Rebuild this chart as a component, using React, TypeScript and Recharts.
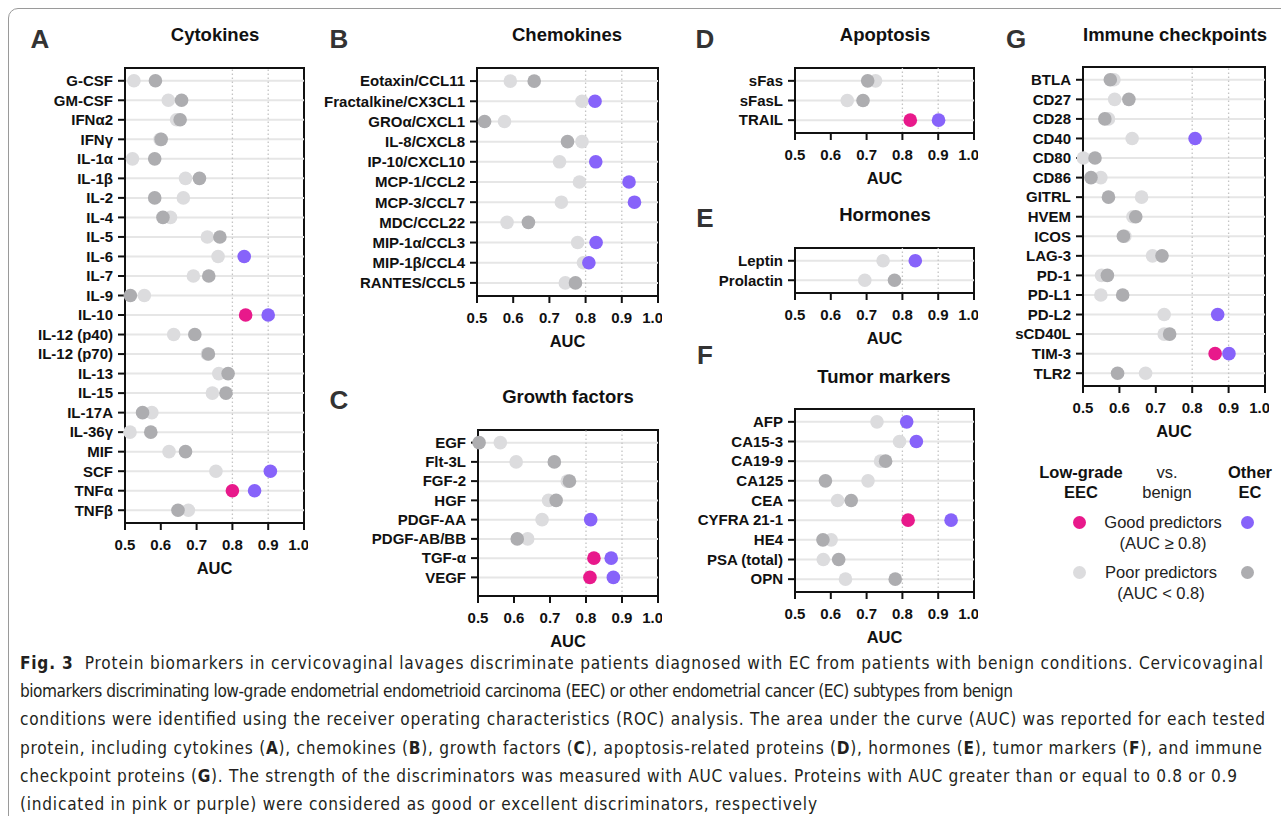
import { ScatterChart, Scatter, XAxis, YAxis, ReferenceLine } from 'recharts';

const PINK = '#e8198b';
const PURPLE = '#8763fa';
const LIGHT = '#dcdcde';
const DARK = '#adadb0';
const FONT = '"Liberation Sans", Arial, Helvetica, sans-serif';
const AUC_TICKS = [0.5, 0.6, 0.7, 0.8, 0.9, 1.0];

// A - cytokines
const cytokineNames = ['G-CSF', 'GM-CSF', 'IFNα2', 'IFNγ', 'IL-1α', 'IL-1β', 'IL-2', 'IL-4', 'IL-5', 'IL-6', 'IL-7', 'IL-9', 'IL-10', 'IL-12 (p40)', 'IL-12 (p70)', 'IL-13', 'IL-15', 'IL-17A', 'IL-36γ', 'MIF', 'SCF', 'TNFα', 'TNFβ'];
const cytokineLow = [0.525, 0.621, 0.644, 0.598, 0.521, 0.669, 0.663, 0.627, 0.73, 0.76, 0.691, 0.554, 0.837, 0.636, 0.73, 0.762, 0.744, 0.575, 0.514, 0.623, 0.754, 0.8, 0.677];
const cytokineOther = [0.585, 0.658, 0.654, 0.601, 0.583, 0.708, 0.583, 0.606, 0.765, 0.833, 0.734, 0.515, 0.9, 0.695, 0.733, 0.788, 0.782, 0.549, 0.572, 0.669, 0.906, 0.862, 0.648];

// B - chemokines
const chemokineNames = ['Eotaxin/CCL11', 'Fractalkine/CX3CL1', 'GROα/CXCL1', 'IL-8/CXCL8', 'IP-10/CXCL10', 'MCP-1/CCL2', 'MCP-3/CCL7', 'MDC/CCL22', 'MIP-1α/CCL3', 'MIP-1β/CCL4', 'RANTES/CCL5'];
const chemokineLow = [0.592, 0.79, 0.576, 0.79, 0.728, 0.783, 0.733, 0.583, 0.778, 0.794, 0.744];
const chemokineOther = [0.658, 0.826, 0.521, 0.75, 0.828, 0.92, 0.935, 0.642, 0.829, 0.809, 0.772];

// C - growth factors
const growthNames = ['EGF', 'Flt-3L', 'FGF-2', 'HGF', 'PDGF-AA', 'PDGF-AB/BB', 'TGF-α', 'VEGF'];
const growthLow = [0.562, 0.606, 0.748, 0.696, 0.678, 0.638, 0.822, 0.811];
const growthOther = [0.503, 0.712, 0.754, 0.717, 0.813, 0.609, 0.87, 0.876];

// D - apoptosis
const apoptosisNames = ['sFas', 'sFasL', 'TRAIL'];
const apoptosisLow = [0.725, 0.646, 0.822];
const apoptosisOther = [0.703, 0.69, 0.901];

// E - hormones
const hormoneNames = ['Leptin', 'Prolactin'];
const hormoneLow = [0.746, 0.695];
const hormoneOther = [0.836, 0.778];

// F - tumor markers
const tumorNames = ['AFP', 'CA15-3', 'CA19-9', 'CA125', 'CEA', 'CYFRA 21-1', 'HE4', 'PSA (total)', 'OPN'];
const tumorLow = [0.729, 0.792, 0.739, 0.704, 0.619, 0.816, 0.601, 0.579, 0.641];
const tumorOther = [0.812, 0.839, 0.753, 0.585, 0.657, 0.936, 0.578, 0.622, 0.78];

// G - immune checkpoints
const checkpointNames = ['BTLA', 'CD27', 'CD28', 'CD40', 'CD80', 'CD86', 'GITRL', 'HVEM', 'ICOS', 'LAG-3', 'PD-1', 'PD-L1', 'PD-L2', 'sCD40L', 'TIM-3', 'TLR2'];
const checkpointLow = [0.585, 0.587, 0.57, 0.635, 0.501, 0.549, 0.661, 0.637, 0.615, 0.691, 0.551, 0.549, 0.723, 0.723, 0.863, 0.672];
const checkpointOther = [0.575, 0.626, 0.56, 0.808, 0.533, 0.522, 0.57, 0.645, 0.611, 0.717, 0.567, 0.609, 0.87, 0.738, 0.901, 0.595];

// caption, one entry per printed line: [text, bold]
const captionLines: [string, boolean][][] = [
  [['Fig. 3', true], ['  Protein biomarkers in cervicovaginal lavages discriminate patients diagnosed with EC from patients with benign conditions. Cervicovaginal', false]],
  [['biomarkers discriminating low-grade endometrial endometrioid carcinoma (EEC) or other endometrial cancer (EC) subtypes from benign', false]],
  [['conditions were identified using the receiver operating characteristics (ROC) analysis. The area under the curve (AUC) was reported for each tested', false]],
  [['protein, including cytokines (', false], ['A', true], ['), chemokines (', false], ['B', true], ['), growth factors (', false], ['C', true], ['), apoptosis-related proteins (', false], ['D', true], ['), hormones (', false], ['E', true], ['), tumor markers (', false], ['F', true], ['), and immune', false]],
  [['checkpoint proteins (', false], ['G', true], ['). The strength of the discriminators was measured with AUC values. Proteins with AUC greater than or equal to 0.8 or 0.9', false]],
  [['(indicated in pink or purple) were considered as good or excellent discriminators, respectively', false]],
];
const captionEnds = [1263, 1013, 1265, 1262, 1237, 817];
const CAPTION_SQUEEZE = 0.88;

const dot = (series: 'low' | 'other') => (props: any) => {
  const good = props.payload.v >= 0.8;
  const fill = series === 'low' ? (good ? PINK : LIGHT) : good ? PURPLE : DARK;
  return <circle cx={props.cx} cy={props.cy} r={6.8} fill={fill} />;
};

const axisStroke = { stroke: '#111', strokeWidth: 2 };
const tickFont = { fill: '#111', fontSize: 15, fontWeight: 700, fontFamily: FONT };

interface PanelProps {
  names: string[];
  low: number[];
  other: number[];
  x: number;
  y: number;
  w: number;
  h: number;
  yw: number;
  padTop?: number;
  padBottom?: number;
}

function DotPanel({ names, low, other, x, y, w, h, yw, padTop = 3, padBottom = 3 }: PanelProps) {
  const lowData = names.map((name, i) => ({ name, v: low[i] }));
  const otherData = names.map((name, i) => ({ name, v: other[i] }));
  return (
    <div style={{ position: 'absolute', left: x - yw, top: y - 2, width: yw + w + 4, height: h + 58 }}>
      {/* top and right edges of the plot box, under the chart svg */}
      <div
        style={{
          position: 'absolute',
          left: yw - 1,
          top: 1,
          width: w + 2,
          height: h + 2,
          borderTop: '2px solid #111',
          borderRight: '2px solid #111',
          boxSizing: 'border-box',
        }}
      />
      <div style={{ position: 'absolute', left: 0, top: 0 }}>
        <ScatterChart width={yw + w + 4} height={h + 2 + 56} margin={{ top: 2, right: 4, bottom: 0, left: 0 }}>
          <XAxis
            type="number"
            dataKey="v"
            domain={[0.5, 1]}
            ticks={AUC_TICKS}
            tickFormatter={(v: number) => v.toFixed(1)}
            height={56}
            tickSize={7}
            tickMargin={9}
            axisLine={axisStroke}
            tickLine={axisStroke}
            tick={tickFont}
            label={{ value: 'AUC', position: 'insideBottom', offset: 5, style: { fill: '#111', fontSize: 16.5, fontWeight: 700, fontFamily: FONT } }}
          />
          <YAxis
            type="category"
            dataKey="name"
            allowDuplicatedCategory={false}
            reversed
            interval={0}
            width={yw}
            padding={{ top: padTop, bottom: padBottom }}
            tickSize={7}
            tickMargin={5}
            axisLine={axisStroke}
            tickLine={axisStroke}
            tick={tickFont}
          />
          {names.map((n) => (
            <ReferenceLine key={n} y={n} stroke="#e6e6e6" strokeWidth={2} />
          ))}
          <ReferenceLine x={0.8} stroke="#c4c4c4" strokeWidth={1.3} strokeDasharray="1.5 2.5" />
          <ReferenceLine x={0.9} stroke="#c4c4c4" strokeWidth={1.3} strokeDasharray="1.5 2.5" />
          <Scatter data={lowData} shape={dot('low')} isAnimationActive={false} />
          <Scatter data={otherData} shape={dot('other')} isAnimationActive={false} />
        </ScatterChart>
      </div>
    </div>
  );
}

function Txt({ x, y, size, bold, children, color = '#111' }: any) {
  return (
    <div
      style={{
        position: 'absolute',
        left: x,
        top: y,
        transform: 'translate(-50%, -50%)',
        fontFamily: FONT,
        fontSize: size,
        fontWeight: bold ? 700 : 400,
        lineHeight: 1,
        whiteSpace: 'nowrap',
        color,
      }}
    >
      {children}
    </div>
  );
}

function LegendDot({ x, y, color }: { x: number; y: number; color: string }) {
  return <div style={{ position: 'absolute', left: x - 6.5, top: y - 6.5, width: 13, height: 13, borderRadius: '50%', background: color }} />;
}

export default function App() {
  return (
    <div style={{ position: 'absolute', left: 0, top: 0, width: 1281, height: 816, background: '#fff', overflow: 'hidden' }}>
      <div style={{ position: 'absolute', left: 8, top: 8, width: 1300, height: 840, border: '1px solid #9a9a9a', borderRadius: 10 }} />

      <Txt x={40} y={39} size={26} bold color="#333">A</Txt>
      <Txt x={215} y={35} size={18.5} bold>Cytokines</Txt>
      <DotPanel names={cytokineNames} low={cytokineLow} other={cytokineOther} x={125} y={68} w={179} h={455} yw={110} />

      <Txt x={339} y={39} size={26} bold color="#333">B</Txt>
      <Txt x={567} y={35} size={18.5} bold>Chemokines</Txt>
      <DotPanel names={chemokineNames} low={chemokineLow} other={chemokineOther} x={477} y={68} w={181} h={228} yw={170} />

      <Txt x={339} y={400} size={26} bold color="#333">C</Txt>
      <Txt x={568} y={397} size={18.5} bold>Growth factors</Txt>
      <DotPanel names={growthNames} low={growthLow} other={growthOther} x={478} y={430} w={180} h={166} yw={120} padBottom={9} />

      <Txt x={705} y={39} size={26} bold color="#333">D</Txt>
      <Txt x={885} y={35} size={18.5} bold>Apoptosis</Txt>
      <DotPanel names={apoptosisNames} low={apoptosisLow} other={apoptosisOther} x={795} y={68} w={179} h={65} yw={105} />

      <Txt x={705} y={218} size={26} bold color="#333">E</Txt>
      <Txt x={885} y={215} size={18.5} bold>Hormones</Txt>
      <DotPanel names={hormoneNames} low={hormoneLow} other={hormoneOther} x={795} y={248} w={179} h={45} yw={105} />

      <Txt x={705} y={355} size={26} bold color="#333">F</Txt>
      <Txt x={884} y={377} size={18.5} bold>Tumor markers</Txt>
      <DotPanel names={tumorNames} low={tumorLow} other={tumorOther} x={795} y={409} w={179} h={183} yw={105} />

      <Txt x={1016} y={39} size={26} bold color="#333">G</Txt>
      <Txt x={1175} y={35} size={18.5} bold>Immune checkpoints</Txt>
      <DotPanel names={checkpointNames} low={checkpointLow} other={checkpointOther} x={1083} y={67} w={182} h={319} yw={75} />

      {/* legend */}
      <Txt x={1081} y={472} size={16.5} bold>Low-grade</Txt>
      <Txt x={1081} y={492} size={16.5} bold>EEC</Txt>
      <Txt x={1167} y={472} size={16.5} color="#222">vs.</Txt>
      <Txt x={1167} y={492} size={16.5} color="#222">benign</Txt>
      <Txt x={1250} y={472} size={16.5} bold>Other</Txt>
      <Txt x={1250} y={492} size={16.5} bold>EC</Txt>
      <LegendDot x={1079} y={522} color={PINK} />
      <LegendDot x={1247} y={522} color={PURPLE} />
      <Txt x={1163} y={522} size={16.5} color="#222">Good predictors</Txt>
      <Txt x={1163} y={543} size={16.5} color="#222">(AUC ≥ 0.8)</Txt>
      <LegendDot x={1079} y={572} color={LIGHT} />
      <LegendDot x={1247} y={572} color={DARK} />
      <Txt x={1161} y={572} size={16.5} color="#222">Poor predictors</Txt>
      <Txt x={1161} y={593} size={16.5} color="#222">(AUC &lt; 0.8)</Txt>

      {/* caption: glyphs condensed by a uniform scale, lines filled out with letter spacing */}
      <svg style={{ position: 'absolute', left: 0, top: 0 }} width={1281} height={816}>
        <g transform={`translate(20,0) scale(${CAPTION_SQUEEZE},1)`}>
          {captionLines.map((segs, i) => (
            <text
              key={i}
              x={0}
              y={669 + i * 28.2}
              textLength={(captionEnds[i] - 20) / CAPTION_SQUEEZE}
              lengthAdjust="spacing"
              fontFamily='"DejaVu Sans", sans-serif'
              fontSize={17.5}
              fill="#231f20"
            >
              {segs.map(([t, b], j) => (
                <tspan key={j} fontWeight={b ? 700 : 400} style={{ whiteSpace: 'pre' }}>
                  {t}
                </tspan>
              ))}
            </text>
          ))}
        </g>
      </svg>
    </div>
  );
}
